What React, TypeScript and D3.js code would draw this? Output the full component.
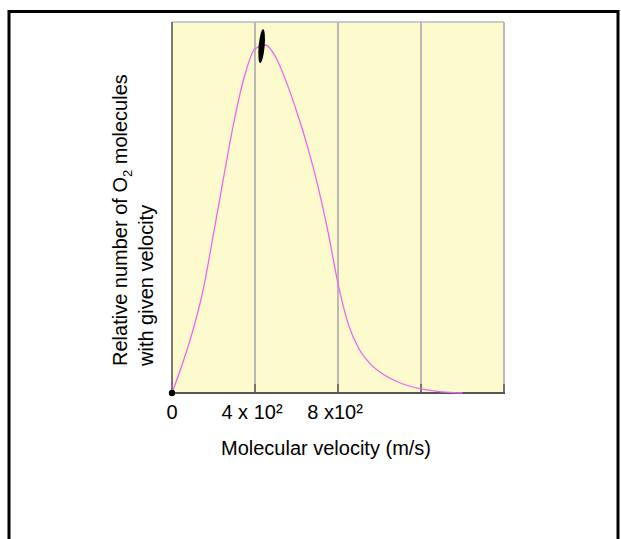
import React, { useEffect, useRef } from "react";
import * as d3 from "d3";

// molecular velocity (m/s) and relative number of O2 molecules
const velocity = [0, 50, 100, 150, 200, 250, 300, 350, 400, 450, 500, 550, 600, 650, 700, 750, 800, 850, 900, 950, 1000, 1100, 1200, 1300, 1400];
const relNumber = [0, 7.8, 16.7, 27.8, 42.9, 58.5, 73.5, 85.5, 92.8, 93.8, 90.5, 84, 76, 67, 56.5, 44, 29.5, 18.5, 12, 8.2, 5.7, 2.7, 1.1, 0.3, 0];

// where the hand drawn black mark sits (velocity, height)
const markVelocity = 432;
const markLevel = 93.5;

const gridValues = [400, 800, 1200, 1600];
const tickValues = [0, 400, 800];
const tickLabels = ["0", "4 x 10\u00b2", "8 x10\u00b2"];

const xTitle = "Molecular velocity (m/s)";
const yTitleLines = [["Relative number of O", "2", " molecules"], ["with given velocity"]];

export default function App() {
  const ref = useRef<SVGSVGElement>(null);

  useEffect(() => {
    const svg = d3.select(ref.current);
    svg.selectAll("*").remove();

    const font = "'Liberation Sans', Arial, sans-serif";
    const left = 172, right = 504, top = 22, bottom = 393;

    const x = d3.scaleLinear().domain([0, 1600]).range([left, right]);
    const y = d3.scaleLinear().domain([0, 100]).range([bottom, top]);

    // outer frame (runs off the bottom of the page)
    svg.append("rect")
      .attr("x", 9).attr("y", 11.5)
      .attr("width", 609).attr("height", 600)
      .attr("fill", "none").attr("stroke", "#000").attr("stroke-width", 3);

    // plot background
    svg.append("rect")
      .attr("x", left).attr("y", top)
      .attr("width", right - left).attr("height", bottom - top)
      .attr("fill", "#fdfacd");

    svg.append("line")
      .attr("x1", left).attr("x2", right).attr("y1", top).attr("y2", top)
      .attr("stroke", "#bbb").attr("stroke-width", 1.5);

    // vertical grid lines
    svg.selectAll("line.grid")
      .data(gridValues)
      .enter()
      .append("line")
      .attr("class", "grid")
      .attr("x1", d => x(d)).attr("x2", d => x(d))
      .attr("y1", top).attr("y2", bottom)
      .attr("stroke", "#b9b9b9").attr("stroke-width", 2);

    // little dark ticks at the bottom of grid lines
    svg.selectAll("line.tick")
      .data(gridValues)
      .enter()
      .append("line")
      .attr("class", "tick")
      .attr("x1", d => x(d)).attr("x2", d => x(d))
      .attr("y1", bottom - 9).attr("y2", bottom)
      .attr("stroke", "#444").attr("stroke-width", 1.2);

    // axes
    svg.append("line")
      .attr("x1", left).attr("x2", left).attr("y1", top).attr("y2", bottom)
      .attr("stroke", "#777").attr("stroke-width", 2);
    svg.append("line")
      .attr("x1", left).attr("x2", right + 1).attr("y1", bottom).attr("y2", bottom)
      .attr("stroke", "#555").attr("stroke-width", 2);

    // the distribution curve
    const line = d3.line<number>()
      .x((d, i) => x(velocity[i]))
      .y(d => y(d))
      .curve(d3.curveMonotoneX);

    svg.append("path")
      .attr("d", line(relNumber))
      .attr("fill", "none")
      .attr("stroke", "#ee66f0")
      .attr("stroke-width", 1.3);

    // dot at the origin
    svg.append("circle")
      .attr("cx", x(0)).attr("cy", y(0)).attr("r", 3.2)
      .attr("fill", "#000");

    // black mark at the peak
    svg.append("ellipse")
      .attr("cx", 0).attr("cy", 0).attr("rx", 3).attr("ry", 17)
      .attr("transform", "translate(" + x(markVelocity) + "," + y(markLevel) + ") rotate(5)")
      .attr("fill", "#000");

    // tick labels
    svg.selectAll("text.tl")
      .data(tickValues)
      .enter()
      .append("text")
      .attr("class", "tl")
      .attr("x", (d, i) => x(d) - (i == 0 ? 0 : 3))
      .attr("y", 419)
      .attr("text-anchor", "middle")
      .attr("font-family", font)
      .attr("font-size", 20)
      .text((d, i) => tickLabels[i]);

    // x title
    svg.append("text")
      .attr("x", 326).attr("y", 455)
      .attr("text-anchor", "middle")
      .attr("font-family", font)
      .attr("font-size", 20)
      .text(xTitle);

    // y title, two lines, subscript 2 in the first
    const lineX = [127, 153];
    yTitleLines.forEach((parts, li) => {
      const t = svg.append("text")
        .attr("transform", "translate(" + lineX[li] + ",366) rotate(-90)")
        .attr("font-family", font)
        .attr("font-size", 20);
      parts.forEach((p, pi) => {
        const ts = t.append("tspan").text(p);
        if (parts.length > 1 && pi == 1) ts.attr("font-size", 13).attr("dy", 5);
        if (parts.length > 1 && pi == 2) ts.attr("dy", -5);
      });
    });
  }, []);

  return (
    <svg ref={ref} width={621} height={539}
      style={{ position: "absolute", left: 0, top: 0, background: "#fff" }} />
  );
}
